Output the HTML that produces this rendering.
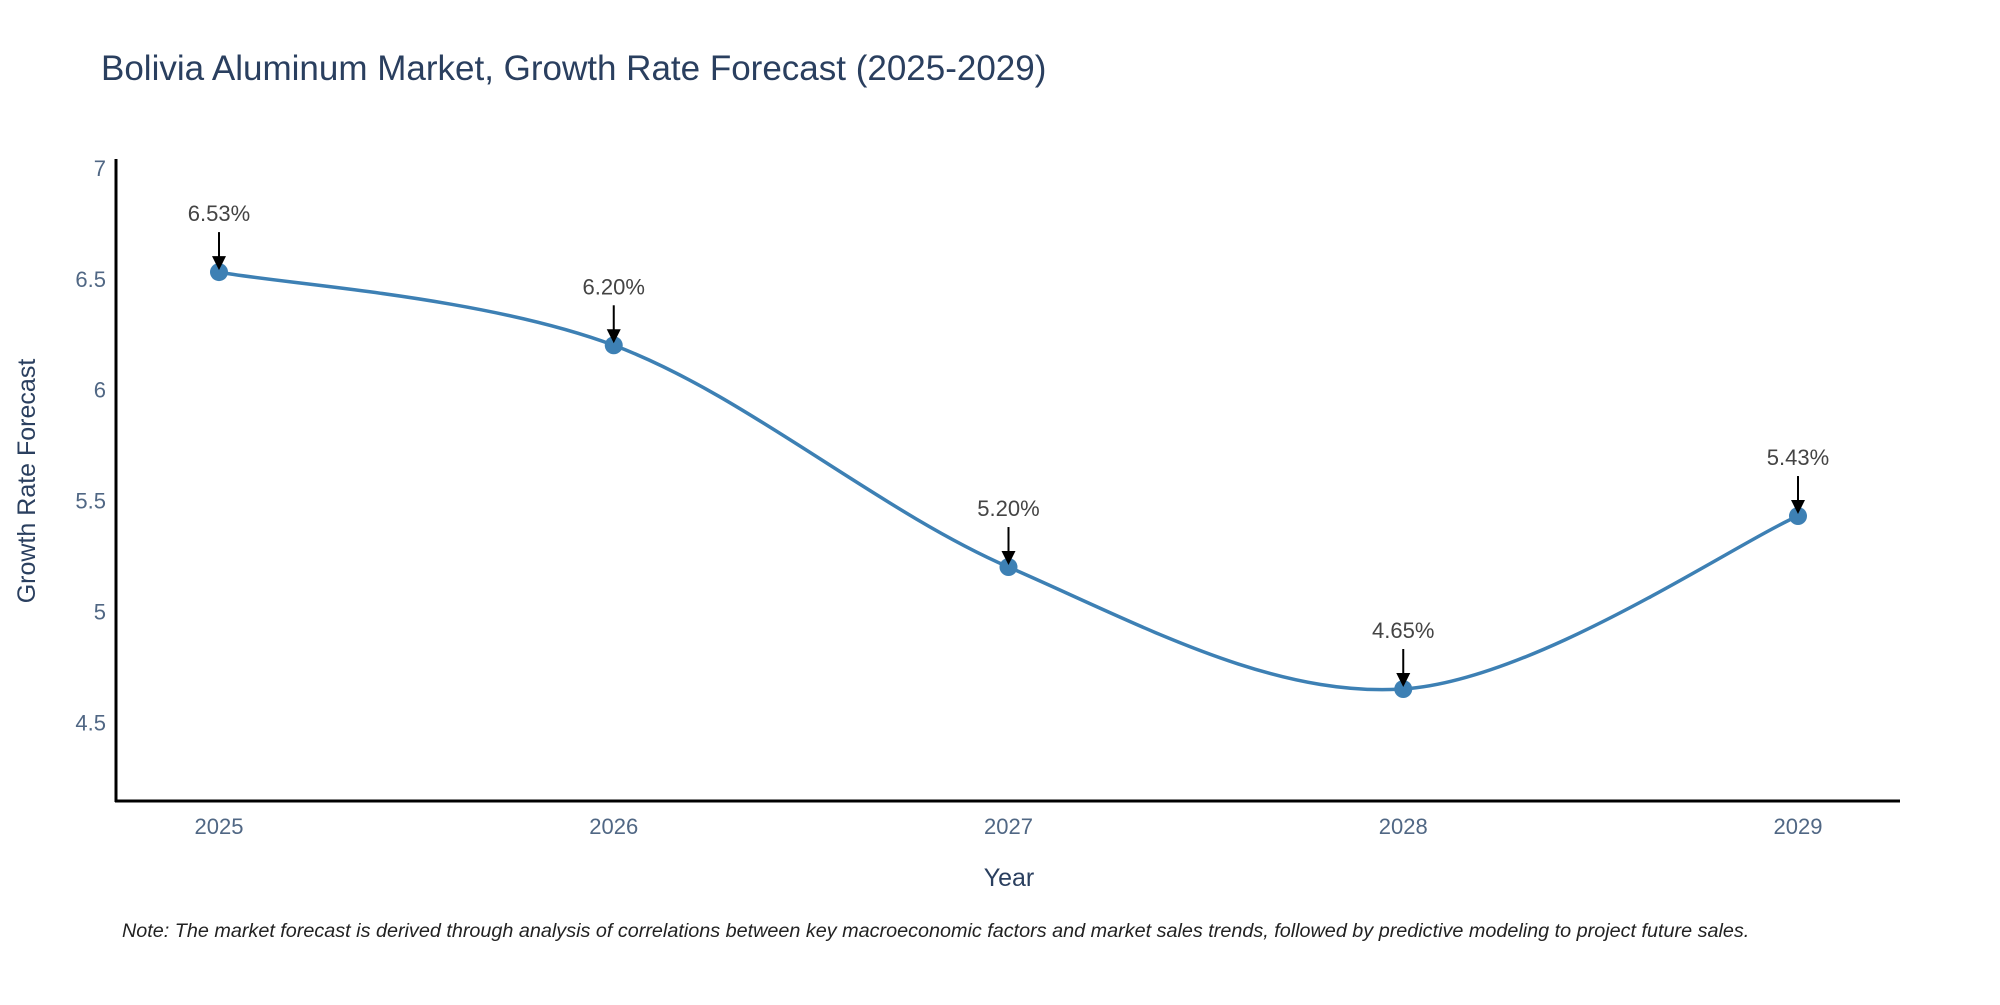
<!DOCTYPE html>
<html><head><meta charset="utf-8"><style>
body{margin:0;background:#fff;}
svg text{font-family:"Liberation Sans",sans-serif;}
</style></head><body>
<svg id="chart" width="2000" height="1000" xmlns="http://www.w3.org/2000/svg">
<text x="101" y="80" font-size="35" fill="#2a3f5f">Bolivia Aluminum Market, Growth Rate Forecast (2025-2029)</text>
<g id="plot"></g>
<text transform="translate(35,481) rotate(-90)" text-anchor="middle" font-size="25" fill="#2a3f5f">Growth Rate Forecast</text>
<text x="1009" y="886" text-anchor="middle" font-size="25" fill="#2a3f5f">Year</text>
<text x="122" y="937" font-size="19.8" font-style="italic" fill="#222">Note: The market forecast is derived through analysis of correlations between key macroeconomic factors and market sales trends, followed by predictive modeling to project future sales.</text>
</svg>
<script>
const years=['2025','2026','2027','2028','2029'];
const growth=[6.53,6.20,5.20,4.65,5.43];
const labels=['6.53%','6.20%','5.20%','4.65%','5.43%'];
const yTicks=[4.5,5,5.5,6,6.5,7];
const yTickLabels=['4.5','5','5.5','6','6.5','7'];

const NS='http://www.w3.org/2000/svg';
const g=document.getElementById('plot');
const x0=219,x1=1798,yMin=4.145,yMax=7.04,topY=159,botY=801;
function xs(i){return x0+(x1-x0)*i/(years.length-1);}
function ys(v){return botY-(v-yMin)/(yMax-yMin)*(botY-topY);}
function mk(t,a){const e=document.createElementNS(NS,t);for(const k in a)e.setAttribute(k,a[k]);g.appendChild(e);return e;}

let ax=mk('line',{x1:116,y1:topY,x2:116,y2:botY+1,stroke:'#000','stroke-width':3});


let bx=mk('line',{x1:115,y1:botY,x2:1900,y2:botY,stroke:'#000','stroke-width':3});



yTicks.forEach((v,i)=>{
  const t=mk('text',{x:106,y:ys(v)+8,'text-anchor':'end','font-size':22,fill:'#506784'});
  t.textContent=yTickLabels[i];
  
  
});
years.forEach((yr,i)=>{
  const t=mk('text',{x:xs(i),y:834,'text-anchor':'middle','font-size':22,fill:'#506784'});
  t.textContent=yr;
  
  
});

const pts=growth.map((v,i)=>[xs(i),ys(v)]);
let d='M'+pts[0][0]+','+pts[0][1];
const s=0.5/3;
for(let i=0;i<pts.length-1;i++){
  const p0=pts[Math.max(0,i-1)],p1=pts[i],p2=pts[i+1],p3=pts[Math.min(pts.length-1,i+2)];
  const c1=[p1[0]+(p2[0]-p0[0])*s,p1[1]+(p2[1]-p0[1])*s];
  const c2=[p2[0]-(p3[0]-p1[0])*s,p2[1]-(p3[1]-p1[1])*s];
  d+=' C'+c1[0]+','+c1[1]+' '+c2[0]+','+c2[1]+' '+p2[0]+','+p2[1];
}
const line=mk('path',{d:d,fill:'none',stroke:'#3d80b4','stroke-width':3.5});



pts.forEach((p,i)=>{
  const c=mk('circle',{cx:p[0],cy:p[1],r:9,fill:'#3d80b4'});
  
  
  const l=mk('line',{x1:p[0],y1:p[1]-40,x2:p[0],y2:p[1]-14,stroke:'#000','stroke-width':2});
  
  
  const a=mk('polygon',{points:(p[0]-7)+','+(p[1]-16)+' '+(p[0]+7)+','+(p[1]-16)+' '+p[0]+','+(p[1]-2),fill:'#000'});
  
  
  const t=mk('text',{x:p[0],y:p[1]-51,'text-anchor':'middle','font-size':22,fill:'#444'});
  t.textContent=labels[i];
  
  
});
</script>
</body></html>
